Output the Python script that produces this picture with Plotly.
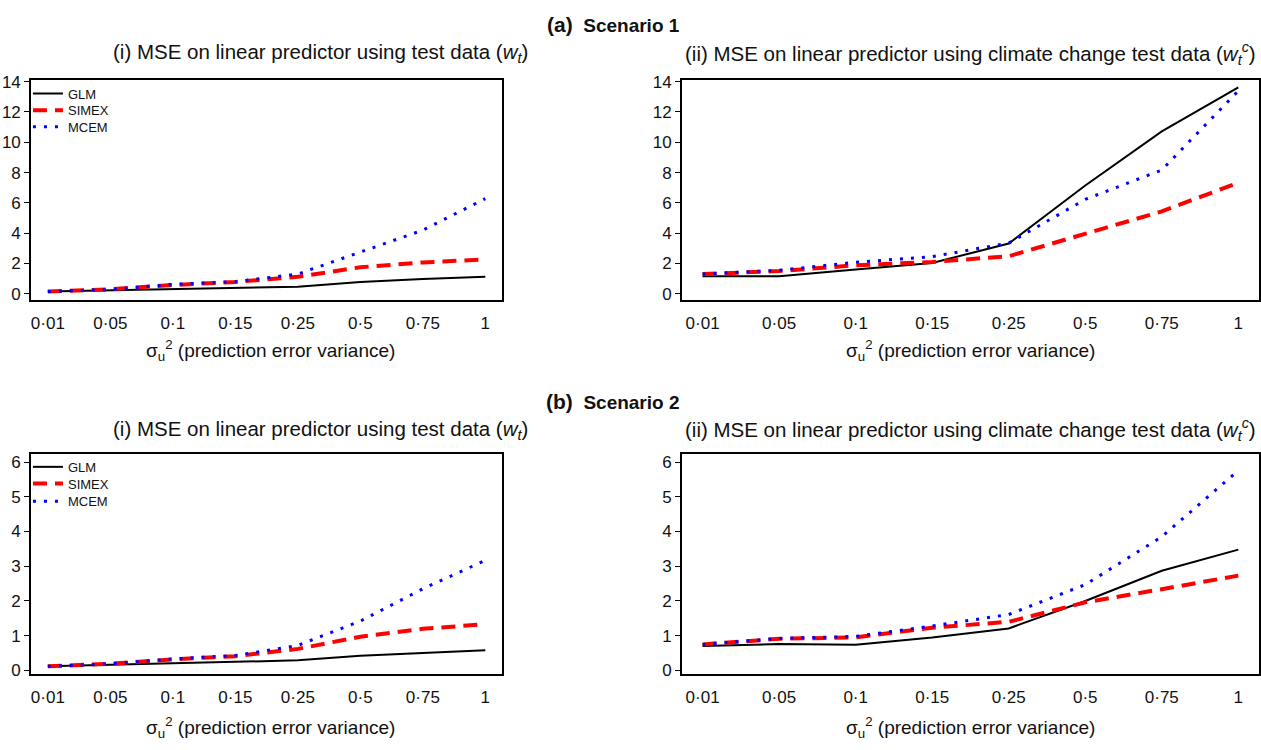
import plotly.graph_objects as go

# ---------------- data ----------------
x_labels = ["0·01", "0·05", "0·1", "0·15", "0·25", "0·5", "0·75", "1"]
x_pos = list(range(len(x_labels)))

s1_test_glm = [0.15, 0.22, 0.30, 0.38, 0.47, 0.78, 0.98, 1.12]
s1_test_simex = [0.15, 0.30, 0.58, 0.78, 1.12, 1.75, 2.07, 2.26]
s1_test_mcem = [0.15, 0.28, 0.62, 0.80, 1.30, 2.75, 4.20, 6.28]

s1_clim_glm = [1.16, 1.16, 1.60, 2.03, 3.32, 7.15, 10.72, 13.63]
s1_clim_simex = [1.30, 1.50, 1.88, 2.10, 2.48, 3.93, 5.44, 7.33]
s1_clim_mcem = [1.30, 1.55, 2.08, 2.45, 3.35, 6.23, 8.17, 13.40]

s2_test_glm = [0.12, 0.16, 0.20, 0.25, 0.29, 0.42, 0.50, 0.58]
s2_test_simex = [0.12, 0.19, 0.32, 0.41, 0.62, 0.97, 1.20, 1.33]
s2_test_mcem = [0.12, 0.19, 0.33, 0.43, 0.72, 1.42, 2.35, 3.17]

s2_clim_glm = [0.70, 0.76, 0.74, 0.95, 1.21, 2.00, 2.87, 3.48]
s2_clim_simex = [0.75, 0.91, 0.95, 1.23, 1.40, 1.96, 2.34, 2.73]
s2_clim_mcem = [0.75, 0.92, 0.98, 1.28, 1.61, 2.47, 3.85, 5.76]

series_names = ["GLM", "SIMEX", "MCEM"]

W, H = 1261, 750
FONT = "Liberation Sans, Arial, sans-serif"

styles = {
    "GLM": dict(color="black", width=2, dash="solid"),
    "SIMEX": dict(color="#ff0000", width=4, dash="14px,8px"),
    "MCEM": dict(color="#0000ff", width=3, dash="3px,8px"),
}


def px_x(p):
    return p / W


def px_y(p):
    return 1 - p / H


fig = go.Figure()

panels = [
    ("x", "y", [s1_test_glm, s1_test_simex, s1_test_mcem], ["legend", "legend2", "legend3"]),
    ("x2", "y2", [s1_clim_glm, s1_clim_simex, s1_clim_mcem], None),
    ("x3", "y3", [s2_test_glm, s2_test_simex, s2_test_mcem], ["legend4", "legend5", "legend6"]),
    ("x4", "y4", [s2_clim_glm, s2_clim_simex, s2_clim_mcem], None),
]

for xa, ya, data, legs in panels:
    for i, (name, vals) in enumerate(zip(series_names, data)):
        tr = dict(
            x=x_pos, y=vals, mode="lines", name=name,
            line=styles[name], xaxis=xa, yaxis=ya,
            showlegend=legs is not None, hoverinfo="skip",
        )
        if legs is not None:
            tr["legend"] = legs[i]
        fig.add_trace(go.Scatter(**tr))

left_dom = [px_x(31), px_x(503)]
right_dom = [px_x(683), 1.0]
top_dom = [px_y(298), px_y(74)]
bot_dom = [px_y(679), px_y(455)]

TICKFONT = dict(family=FONT, size=17, color="#111")
xcommon = dict(
    range=[-0.27, 7.27], tickmode="array", tickvals=x_pos, ticktext=x_labels,
    ticks="", showline=True, mirror=True, linecolor="black", linewidth=1.5,
    showgrid=False, zeroline=False, tickfont=TICKFONT,
    ticklabelstandoff=7,
)
ycommon = dict(
    ticks="outside", ticklen=5, tickwidth=1.2, tickcolor="black",
    showline=True, mirror=True, linecolor="black", linewidth=1.5,
    showgrid=False, zeroline=False, tickfont=TICKFONT,
    ticklabelstandoff=0,
)

top_y = dict(range=[-0.4, 14.13], tickmode="array", tickvals=list(range(0, 15, 2)))
bot_y = dict(range=[-0.11, 6.23], tickmode="array", tickvals=list(range(0, 7)))


def leg(ypix):
    return dict(x=px_x(28), y=px_y(ypix), xanchor="left", yanchor="middle",
                bgcolor="rgba(0,0,0,0)", font=dict(family=FONT, size=13, color="#111"),
                itemwidth=30, tracegroupgap=0)


fig.update_layout(
    width=W, height=H,
    margin=dict(l=0, r=0, t=0, b=0),
    paper_bgcolor="white", plot_bgcolor="white",
    font=dict(family=FONT, color="#111"),
    xaxis=dict(domain=left_dom, anchor="y", **xcommon),
    yaxis=dict(domain=top_dom, anchor="x", **top_y, **ycommon),
    xaxis2=dict(domain=right_dom, anchor="y2", **xcommon),
    yaxis2=dict(domain=top_dom, anchor="x2", **top_y, **ycommon),
    xaxis3=dict(domain=left_dom, anchor="y3", **xcommon),
    yaxis3=dict(domain=bot_dom, anchor="x3", **bot_y, **ycommon),
    xaxis4=dict(domain=right_dom, anchor="y4", **xcommon),
    yaxis4=dict(domain=bot_dom, anchor="x4", **bot_y, **ycommon),
    legend=leg(88), legend2=leg(105), legend3=leg(122),
    legend4=leg(468), legend5=leg(485), legend6=leg(503),
    showlegend=True,
)

ann = []


def add_text(text, xp, yp, size):
    ann.append(dict(
        text=text, x=px_x(xp), y=px_y(yp), xref="paper", yref="paper",
        xanchor="center", yanchor="middle", showarrow=False,
        font=dict(family=FONT, size=size, color="#111"),
    ))


add_text("<b><span style='font-size:21px'>(a)</span>  Scenario 1</b>", 614, 18, 19)
add_text("<b><span style='font-size:21px'>(b)</span>  Scenario 2</b>", 614, 401, 19)

sub_i = "(i) MSE on linear predictor using test data (<i>w</i><sub><i>t</i></sub>)"
sub_ii = ("(ii) MSE on linear predictor using climate change test data "
          "(<i>w</i><sub><i>t</i></sub><sup><i>c</i></sup>)")
add_text(sub_i, 321, 47, 20.5)
add_text(sub_ii, 972, 47, 20.5)
add_text(sub_i, 321, 430, 20.5)
add_text(sub_ii, 972, 430, 20.5)

xt = "σ<sub>u</sub><sup>2</sup> (prediction error variance)"
add_text(xt, 271, 350, 19)
add_text(xt, 972, 350, 19)
add_text(xt, 271, 733, 19)
add_text(xt, 972, 733, 19)

fig.update_layout(annotations=ann)

fig.write_html("out.html")
